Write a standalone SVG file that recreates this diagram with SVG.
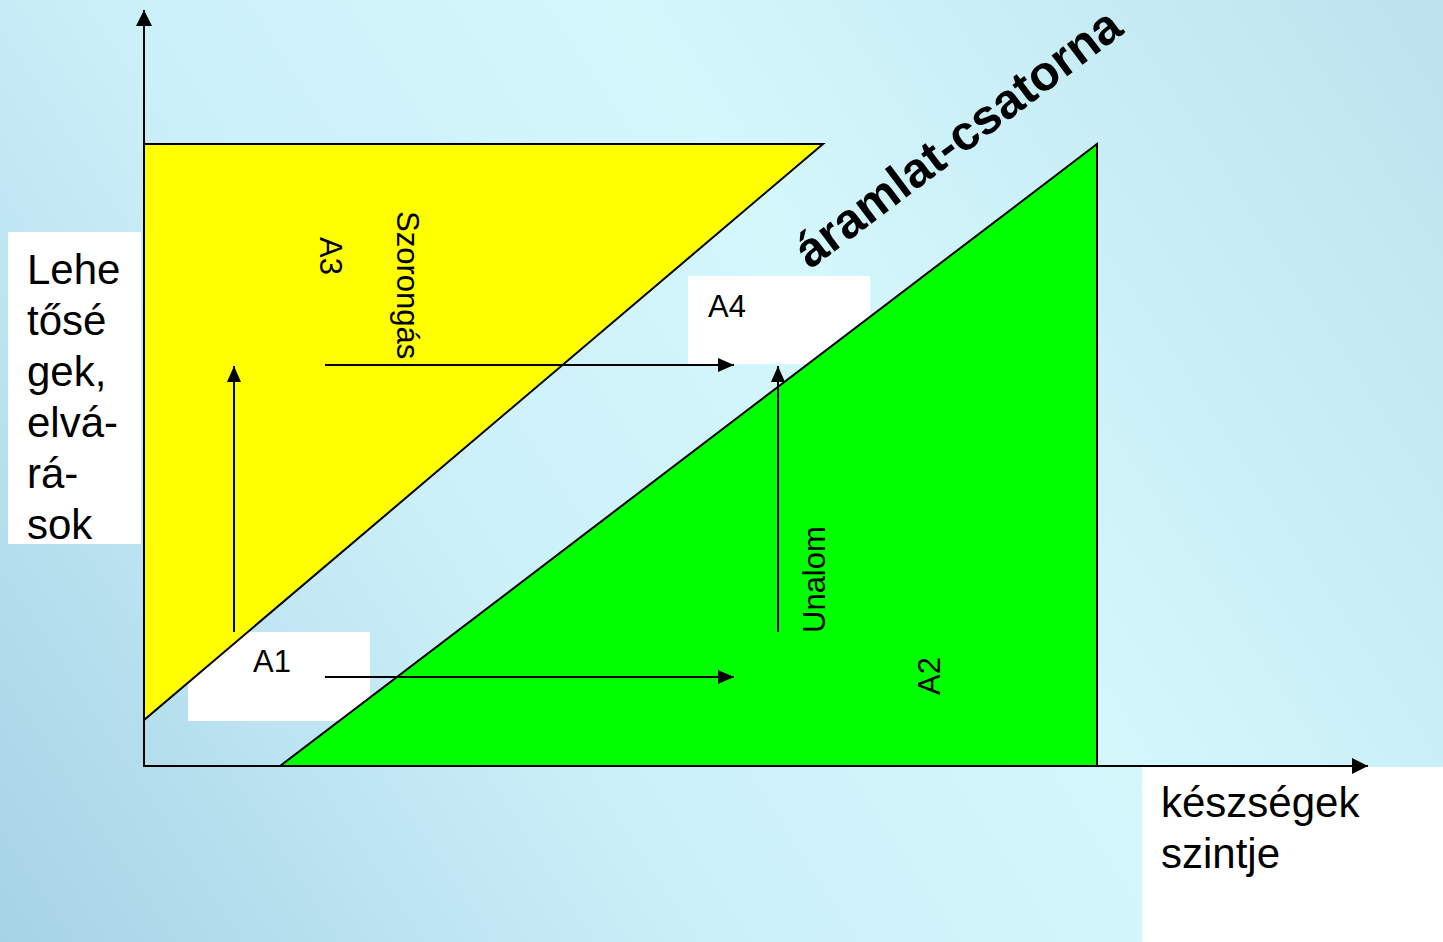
<svg xmlns="http://www.w3.org/2000/svg" width="1443" height="942" viewBox="0 0 1443 942">
<defs>
<linearGradient id="bg" x1="0" y1="942" x2="1443" y2="0" gradientUnits="userSpaceOnUse">
<stop offset="0" stop-color="#a6d3e6"/>
<stop offset="0.35" stop-color="#ccf0f9"/>
<stop offset="0.6" stop-color="#d4f7fc"/>
<stop offset="1" stop-color="#bce3ee"/>
</linearGradient>
<marker id="ah" viewBox="0 0 16 14" refX="16" refY="7" markerWidth="16" markerHeight="14" markerUnits="userSpaceOnUse" orient="auto">
<path d="M0,0 L16,7 L0,14 Z" fill="#000"/>
</marker>
<marker id="ahBig" viewBox="0 0 16 16" refX="16" refY="8" markerWidth="16" markerHeight="16" markerUnits="userSpaceOnUse" orient="auto">
<path d="M0,0 L16,8 L0,16 Z" fill="#000"/>
</marker>
</defs>
<style>
text{font-family:"Liberation Sans",Arial,sans-serif;fill:#000}
.big{font-size:42px}
.mid{font-size:31px}
.ttl{font-size:49px;font-weight:bold}
.box{fill:#fff}
.ln{stroke:#000;stroke-width:2;fill:none}
</style>
<rect width="1443" height="942" fill="url(#bg)"/>
<g id="A4-box">
<rect class="box" x="688" y="276" width="182" height="88"/>
</g>
<g id="A1-box">
<rect class="box" x="188" y="632" width="182" height="89"/>
</g>
<g id="yellow-zone">
<polygon points="144,144 823,144 144,720" fill="#ffff00" stroke="#000" stroke-width="2"/>
</g>
<g id="green-zone">
<polygon points="280,766 1097,144 1097,766" fill="#00ff00" stroke="#000" stroke-width="2"/>
</g>
<g id="label-y">
<rect class="box" x="8" y="232" width="133" height="312"/>
<text class="big" x="27" y="284">Lehe</text>
<text class="big" x="27" y="335">tősé</text>
<text class="big" x="27" y="386">gek,</text>
<text class="big" x="27" y="437">elvá-</text>
<text class="big" x="27" y="488">rá-</text>
<text class="big" x="27" y="539">sok</text>
</g>
<g id="label-x">
<rect class="box" x="1142" y="767" width="301" height="175"/>
<text class="big" x="1161" y="817">készségek</text>
<text class="big" x="1161" y="868">szintje</text>
</g>
<g id="A4">
<text class="mid" x="708" y="317">A4</text>
</g>
<g id="A1">
<text class="mid" x="253" y="672">A1</text>
</g>
<g id="A3">
<text class="mid" transform="translate(320,237) rotate(90)">A3</text>
</g>
<g id="szorongas">
<text class="mid" transform="translate(397,211) rotate(90)">Szorongás</text>
</g>
<g id="unalom">
<text class="mid" transform="translate(825,633) rotate(-90)">Unalom</text>
</g>
<g id="A2">
<text class="mid" transform="translate(940,695) rotate(-90)">A2</text>
</g>
<g id="aramlat">
<text class="ttl" transform="translate(810,270) rotate(-37)">áramlat-csatorna</text>
</g>
<g id="connectors">
<line class="ln" x1="144" y1="767" x2="144" y2="10" marker-end="url(#ahBig)"/>
<line class="ln" x1="143" y1="766" x2="1368" y2="766" marker-end="url(#ahBig)"/>
<line class="ln" x1="234" y1="632" x2="234" y2="366" marker-end="url(#ah)"/>
<line class="ln" x1="325" y1="365" x2="734" y2="365" marker-end="url(#ah)"/>
<line class="ln" x1="778" y1="632" x2="778" y2="366" marker-end="url(#ah)"/>
<line class="ln" x1="325" y1="677" x2="734" y2="677" marker-end="url(#ah)"/>
</g>
</svg>
